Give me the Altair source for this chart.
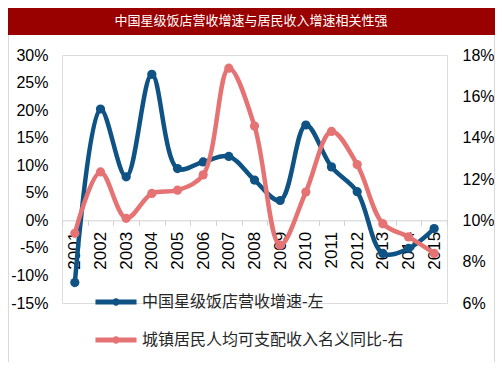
import altair as alt
import pandas as pd

years = [str(y) for y in range(2001, 2016)]
hotel_growth = [-11.3, 20.2, 7.9, 26.5, 9.4, 10.6, 11.6, 7.3, 3.6, 17.3, 9.7, 5.2, -6.0, -5.1, -1.5]
income_growth = [9.37, 12.34, 10.1, 11.3, 11.46, 12.2, 17.36, 14.56, 8.8, 11.37, 14.3, 12.7, 9.84, 9.2, 8.4]
series_names = ["中国星级饭店营收增速-左", "城镇居民人均可支配收入名义同比-右"]
colors = ["#0e5384", "#e67373"]
title_text = "中国星级饭店营收增速与居民收入增速相关性强"
left_ticks = [-15, -10, -5, 0, 5, 10, 15, 20, 25, 30]
right_ticks = [6, 8, 10, 12, 14, 16, 18]

rows = []
for y, v in zip(years, hotel_growth):
    rows.append({"year": y, "series": series_names[0], "value": v})
for y, v in zip(years, income_growth):
    rows.append({"year": y, "series": series_names[1], "value": v})
df = pd.DataFrame(rows)

W, H = 385, 248
zero_y = H * 30 / 45

xenc = alt.X(
    "year:N",
    sort=years,
    scale=alt.Scale(type="band", paddingInner=0, paddingOuter=0),
    axis=alt.Axis(
        title=None,
        offset=-(H - zero_y),
        labelAngle=270,
        labelFontSize=17,
        labelColor="#000000",
        labelFont="Liberation Sans",
        labelPadding=6,
        tickBand="extent",
        tickColor="#d0d0d0",
        tickSize=5,
        domainColor="#d0d0d0",
        grid=False,
    ),
)

legend_path = ("M-1.5,-0.18 L1.5,-0.18 L1.5,0.18 L-1.5,0.18 Z "
               "M0.27,0 A0.27,0.27 0 1 1 -0.27,0 A0.27,0.27 0 1 1 0.27,0 Z")

color_enc = alt.Color(
    "series:N",
    scale=alt.Scale(domain=series_names, range=colors),
    sort=series_names,
    legend=alt.Legend(
        title=None,
        orient="none",
        legendX=40,
        legendY=233,
        symbolType=legend_path,
        symbolSize=750,
        symbolStrokeWidth=0,
        symbolOpacity=1,
        labelFont="Noto Sans CJK SC",
        labelFontSize=16,
        labelColor="#262626",
        labelOffset=12,
        rowPadding=16,
        labelLimit=400,
    ),
)

left_y = alt.Y(
    "value:Q",
    scale=alt.Scale(domain=[-15, 30], nice=False, zero=False),
    axis=alt.Axis(
        title=None, values=left_ticks, labelExpr="datum.value + '%'",
        labelFontSize=16, labelColor="#000000", labelFont="Liberation Sans",
        domain=False, ticks=False, grid=False, labelPadding=14,
    ),
)
right_y = alt.Y(
    "value:Q",
    scale=alt.Scale(domain=[6, 18], nice=False, zero=False),
    axis=alt.Axis(
        title=None, orient="right", values=right_ticks, labelExpr="datum.value + '%'",
        labelFontSize=16, labelColor="#000000", labelFont="Liberation Sans",
        domain=False, ticks=False, grid=False, labelPadding=15,
    ),
)

base = alt.Chart(df)

hotel_line = base.transform_filter(alt.datum.series == series_names[0]).mark_line(
    interpolate="catmull-rom", strokeWidth=4.5
).encode(x=xenc, y=left_y, color=color_enc)
hotel_pts = base.transform_filter(alt.datum.series == series_names[0]).mark_circle(
    size=85, opacity=1
).encode(x=xenc, y=left_y, color=color_enc)

income_line = base.transform_filter(alt.datum.series == series_names[1]).mark_line(
    interpolate="catmull-rom", strokeWidth=4.5
).encode(x=xenc, y=right_y, color=color_enc)
income_pts = base.transform_filter(alt.datum.series == series_names[1]).mark_circle(
    size=85, opacity=1
).encode(x=xenc, y=right_y, color=color_enc)

title_df = pd.DataFrame({"t": [title_text]})
title_bar = alt.Chart(title_df).mark_rect(color="#990000").encode(
    x=alt.value(-54), x2=alt.value(433), y=alt.value(-47), y2=alt.value(-20)
)
title_txt = alt.Chart(title_df).mark_text(
    color="#ffffff", fontSize=13, font="Noto Sans CJK SC", align="center", baseline="middle"
).encode(x=alt.value(189), y=alt.value(-34), text="t:N")
frame_l = alt.Chart(title_df).mark_rule(color="#d9d9d9", strokeWidth=1).encode(
    x=alt.value(-53.5), y=alt.value(-20), y2=alt.value(307)
)
frame_r = alt.Chart(title_df).mark_rule(color="#d9d9d9", strokeWidth=1).encode(
    x=alt.value(432.5), y=alt.value(-20), y2=alt.value(307)
)

left_layer = alt.layer(title_bar, title_txt, frame_l, frame_r, hotel_line, hotel_pts)
right_layer = alt.layer(income_line, income_pts)

chart = alt.layer(left_layer, right_layer).resolve_scale(y="independent").properties(
    width=W,
    height=H,
    autosize=alt.AutoSizeParams(type="none"),
    padding={"left": 54, "top": 47, "right": 48, "bottom": 67},
).configure_view(stroke=None).configure(background="#ffffff")

chart.save("out.html", embed_options={"renderer": "svg", "actions": False})
